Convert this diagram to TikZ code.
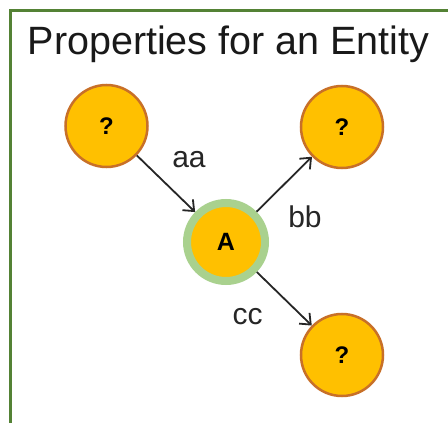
\documentclass[tikz,border=0pt]{standalone}
\usepackage{fontspec}
\setmainfont{Liberation Sans}
\usetikzlibrary{arrows.meta}
\definecolor{qfill}{RGB}{255,192,0}
\definecolor{qline}{RGB}{200,112,40}
\definecolor{ring}{RGB}{169,209,142}
\definecolor{frame}{RGB}{84,130,53}
\definecolor{edgec}{RGB}{38,38,38}
\begin{document}
\begin{tikzpicture}[x=1pt,y=-1pt,
  qnode/.style={circle, fill=qfill, draw=qline, line width=2.5pt, minimum size=82pt, inner sep=0pt,
    font=\fontsize{24}{24}\selectfont\bfseries},
  anode/.style={circle, fill=qfill, draw=ring, line width=8pt, minimum size=78pt, inner sep=0pt,
    font=\fontsize{25}{25}\selectfont\bfseries},
  rel/.style={draw=edgec, line width=1.8pt, -{Straight Barb[length=9pt,width=15pt,line width=1.8pt]}},
  lbl/.style={anchor=base, inner sep=0pt, font=\fontsize{30}{30}\selectfont, text=black!85}
]
\useasboundingbox (0,0) rectangle (448,423);
\fill[white] (0,0) rectangle (448,423);
\coordinate (fr1) at (448,10);
\coordinate (fr2) at (10,10);
\coordinate (fr3) at (10,423);
\draw[frame, line width=3pt] (fr1) -- (fr2) -- (fr3);
\node[anchor=base west, inner sep=0pt, font=\fontsize{39.5}{40}\selectfont, text=black!90] (title) at (27.5,54) {Properties for an Entity};
\node[qnode] (q1) at (106.5,126) {?};
\node[qnode] (q2) at (342,127) {?};
\node[qnode] (q3) at (342,355) {?};
\node[anode] (a) at (226,242) {A};
\draw[rel] (q1) -- (a);
\draw[rel] (a) -- (q2);
\draw[rel] (a) -- (q3);
\node[lbl] (laa) at (189,167) {aa};
\node[lbl] (lbb) at (305,227) {bb};
\node[lbl] (lcc) at (247.5,324) {cc};
\end{tikzpicture}
\end{document}
